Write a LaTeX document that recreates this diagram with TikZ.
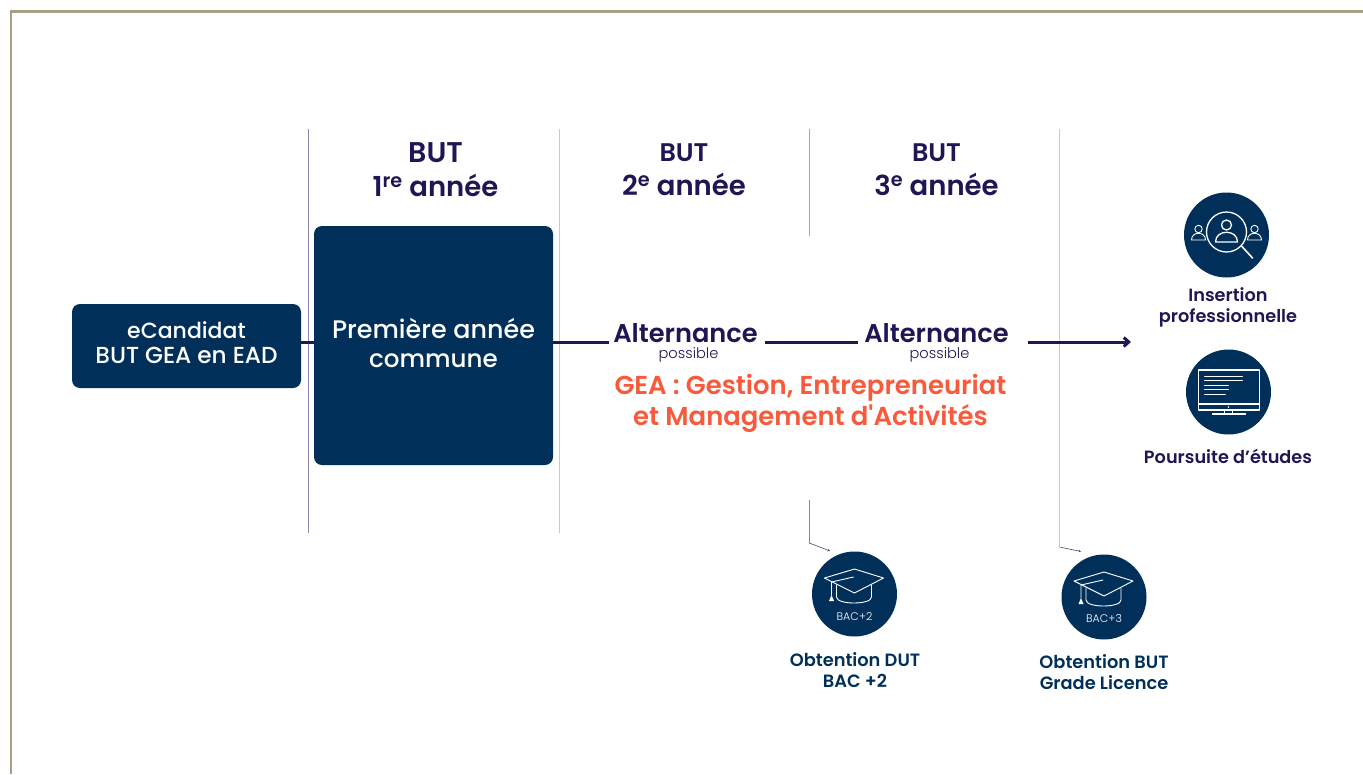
\documentclass[tikz,border=0pt]{standalone}
\usepackage{fontspec}
\setmainfont{Poppins}
\newfontfamily\semi{Poppins SemiBold}
\newfontfamily\med{Poppins Medium}
\newfontfamily\lite{Poppins Light}
\usetikzlibrary{calc,arrows.meta}
\definecolor{navy}{HTML}{00305A}
\definecolor{plum}{HTML}{1F1654}
\definecolor{coral}{HTML}{F95A3C}
\definecolor{frame}{HTML}{A9A083}
\definecolor{rulegrey}{HTML}{C8C8D6}
\definecolor{ruleplum}{HTML}{8C87AE}
\newcommand{\fs}[2]{\fontsize{#1}{#2}\selectfont}
\tikzset{
  x=1pt,y=-1pt,
  navybox/.style={fill=navy,rounded corners=8pt,text=white,align=center,inner sep=0pt,anchor=center},
  yearlabel/.style={text=plum,align=center,font=\semi\fs{27.5}{34},inner sep=0pt},
  altlabel/.style={text=plum,font=\semi\fs{25.7}{30},inner sep=0pt,anchor=base},
  smalllabel/.style={text=plum,font=\lite\fs{14.6}{16},inner sep=0pt,anchor=base},
  outcome/.style={text=plum,align=center,font=\semi\fs{17.7}{21},inner sep=0pt},
  diploma/.style={text=navy,align=center,font=\semi\fs{17.8}{21},inner sep=0pt},
  disc/.style={circle,fill=navy,minimum size=85pt,inner sep=0pt},
  rail/.style={plum,line width=3pt},
  thinrule/.style={line width=0.9pt},
  pointer/.style={plum!80,line width=0.6pt,-{Stealth[length=2.5pt,width=2.5pt]}},
  icon/.style={white,line width=1.3pt,line cap=round,line join=round},
  iconthin/.style={white,line width=0.9pt,line cap=round,line join=round},
}
\begin{document}
\begin{tikzpicture}
\useasboundingbox (0,0) rectangle (1363,774);
% frame
\draw[frame,line width=2.6pt] (11,774) -- (11,11.5) -- (1363,11.5);
% rules
\draw[thinrule,ruleplum] (308.5,129) -- (308.5,533);
\draw[thinrule,rulegrey] (559.7,129) -- (559.7,533);
\draw[thinrule,rulegrey!80!plum] (809.7,129) -- (809.7,236);
\draw[thinrule,rulegrey] (1059.7,129) -- (1059.7,547);
\draw[thinrule,ruleplum] (809.3,500) -- (809.3,543);
% headings
\node[yearlabel] (y1) at (435.5,170) {{\fs{28.5}{34}\selectfont BUT}\\1\textsuperscript{re} année};
\node[yearlabel] (y2) at (684,170) {{\fs{25.5}{34}\selectfont BUT}\\2\textsuperscript{e} année};
\node[yearlabel] (y3) at (936.5,170) {{\fs{25.5}{34}\selectfont BUT}\\3\textsuperscript{e} année};
% boxes
\node[navybox,minimum width=229pt,minimum height=84pt,font=\med\fs{23.2}{26}] (ecand) at (186.5,346) {\raisebox{3pt}{\begin{tabular}{@{}c@{}}{\fs{22}{26}\selectfont eCandidat}\\[-1pt]BUT GEA en EAD\end{tabular}}};
\node[navybox,minimum width=239pt,minimum height=239pt,font=\med\fs{25.4}{29}] (premiere) at (433.5,345.5) {\raisebox{-8pt}[0pt][0pt]{\begin{tabular}{@{}c@{}}Première année\\[-0.5pt]{\fs{24.6}{29}\selectfont commune}\end{tabular}}};
% alternance
\node[altlabel] (alt1) at (685.5,342) {Alternance};
\node[altlabel] (alt2) at (936.5,342) {Alternance};
\node[smalllabel] (poss1) at (688.5,358) {possible};
\node[smalllabel] (poss2) at (939.5,358) {possible};
\node[text=coral,align=center,font=\semi\fs{25.9}{31},inner sep=0pt] (gea) at (810.5,403) {GEA : Gestion, Entrepreneuriat\\et Management d'Activités};
% connectors
\coordinate (railY) at (0,342);
\coordinate (goal) at (1131,342);
\draw[rail] (ecand.east |- railY) -- (premiere.west |- railY);
\draw[rail] (premiere.east |- railY) -- ([xshift=-4pt]alt1.west |- railY);
\draw[rail] ([xshift=7pt]alt1.east |- railY) -- ([xshift=-6pt]alt2.west |- railY);
\draw[rail,-{Straight Barb[length=5pt,width=9pt]}] ([xshift=19pt]alt2.east |- railY) -- (goal);
% outcomes
\node[disc] (search) at (1226.5,235) {};
\begin{scope}[shift={(search.center)}]
  \draw[icon] (0,-3) circle (20);
  \draw[icon,line width=1.6pt] (15,11) -- (26,23);
  \draw[icon] (0,-10) circle (5);
  \draw[icon] (-11,7) .. controls (-11,-6) and (11,-6) .. (11,7) -- cycle;
  \foreach \s in {-1,1}{
    \draw[iconthin] (\s*28,-6) circle (3.7);
    \draw[iconthin] (\s*21,5) .. controls (\s*21,-4) and (\s*35,-4) .. (\s*35,5) -- cycle;
  }
\end{scope}
\node[outcome] (insertion) at (1228,307.5) {Insertion\\professionnelle};
\node[disc] (screen) at (1228.5,392) {};
\begin{scope}[shift={(screen.center)}]
  \draw[icon] (-30,-22) rectangle (31,18);
  \draw[icon] (-30,12) -- (31,12);
  \fill[white] (0,15) circle (0.8);
  \draw[icon] (-4,18) -- (-4,22) (4,18) -- (4,22);
  \draw[icon] (-16,22) -- (17,22);
  \draw[iconthin] (-24,-16) -- (14,-16) (-24,-12) -- (14,-12) (-24,-7) -- (0,-7) (-24,-3) -- (0,-3) (-24,2) -- (-3,2);
\end{scope}
\node[outcome] (poursuite) at (1228,456.5) {Poursuite d’études};
% diplomas
\node[disc] (capa) at (854.5,594) {};
\node[disc] (capb) at (1104,597) {};
\foreach \c/\t/\d in {capa/BAC+2/22.5,capb/BAC+3/21.5}{
\begin{scope}[shift={(\c.center)}]
  \draw[iconthin] (-30,-16) -- (0,-25) -- (29,-16) -- (0,-1) -- cycle;
  \draw[iconthin] (-18,-9) -- (-18,3) .. controls (-18,11) and (17,11) .. (17,3) -- (17,-9);
  \draw[iconthin] (-23,1) -- (-23,-12) -- (-1,-17);
  \fill[white] (-23,1) -- (-25.5,7) -- (-20.5,7) -- cycle;
  \node[text=white,font=\lite\fs{11}{13},inner sep=0pt] at (0,\d) {\t};
\end{scope}}
\node[diploma] (dut) at (855,670.5) {Obtention DUT\\BAC +2};
\node[diploma] (lic) at (1104,672.5) {Obtention BUT\\Grade Licence};
% pointers
\coordinate (p1a) at (809.3,543);
\coordinate (p2a) at (1059.7,547);
\coordinate (p1b) at (830,551);
\coordinate (p2b) at (1081,551.5);
\draw[pointer] (p1a) -- (p1b);
\draw[pointer] (p2a) -- (p2b);
\end{tikzpicture}
\end{document}
